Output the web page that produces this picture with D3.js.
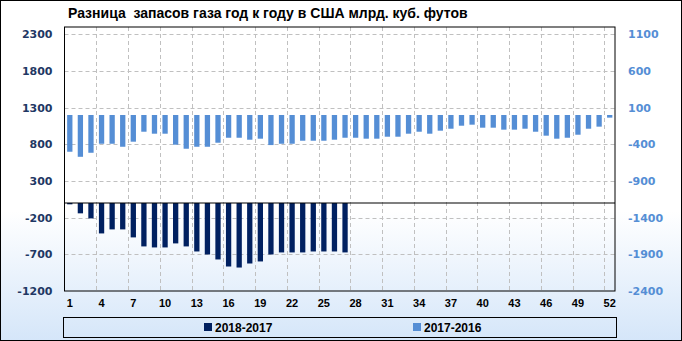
<!DOCTYPE html>
<html>
<head>
<meta charset="utf-8">
<script src="https://cdn.jsdelivr.net/npm/d3@7"></script>
<style>
    html, body { margin: 0; padding: 0; background: #fff; }
    svg { display: block; }
</style>
</head>
<body>
<div id="chart"></div>
<script>
const weeks = d3.range(1, 53);
const tickWeeks = [1, 4, 7, 10, 13, 16, 19, 22, 25, 28, 31, 34, 37, 40, 43, 46, 49, 52];
const leftTicks = [-1200, -700, -200, 300, 800, 1300, 1800, 2300];
const rightTicks = [-2400, -1900, -1400, -900, -400, 100, 600, 1100];

// 2018-2017, left axis (only 27 weeks reported)
const diff2018 = [
    -18, -141, -210, -415, -360, -360, -469, -592, -606, -606,
    -551, -592, -661, -702, -770, -866, -880, -825, -797, -702,
    -674, -674, -674, -661, -661, -661, -674
];

// 2017-2016, right axis
const diff2017 = [
    -501, -570, -515, -392, -392, -433, -364, -228, -255, -255,
    -405, -460, -433, -433, -378, -310, -310, -337, -323, -410,
    -392, -392, -351, -351, -351, -337, -310, -310, -323, -323,
    -296, -296, -255, -228, -255, -214, -187, -146, -132, -173,
    -173, -200, -200, -187, -228, -282, -323, -310, -269, -187,
    -159, -36
];

const width = 682, height = 341;
const plot = { left: 64.5, right: 615, top: 27, bottom: 291 };
const fmt = d => String(d);

const svg = d3.select('#chart').append('svg')
    .attr('width', width)
    .attr('height', height);

const grad = svg.append('defs').append('linearGradient')
    .attr('id', 'bg').attr('x1', 0).attr('y1', 0).attr('x2', 0).attr('y2', 1);
grad.append('stop').attr('offset', '0%').attr('stop-color', '#ffffff');
grad.append('stop').attr('offset', '62%').attr('stop-color', '#ffffff');
grad.append('stop').attr('offset', '100%').attr('stop-color', '#d5e6f9');

svg.append('rect')
    .attr('x', 0.5).attr('y', 0.5)
    .attr('width', width - 1).attr('height', height - 1)
    .attr('fill', 'url(#bg)')
    .attr('stroke', '#000');

const x = d3.scaleBand()
    .domain(weeks)
    .range([plot.left, plot.right]);

const yLeft = d3.scaleLinear().domain([-1200, 2400]).range([plot.bottom, plot.top]);
const yRight = d3.scaleLinear().domain([-2400, 1200]).range([plot.bottom, plot.top]);

// grid
svg.append('g')
    .selectAll('line')
    .data(leftTicks.slice(1))
    .enter()
    .append('line')
    .attr('x1', plot.left).attr('x2', plot.right)
    .attr('y1', d => Math.round(yLeft(d)) + 0.5)
    .attr('y2', d => Math.round(yLeft(d)) + 0.5)
    .attr('stroke', '#c0c0c0')
    .attr('stroke-dasharray', '4,3');

svg.append('g')
    .selectAll('line')
    .data(tickWeeks.slice(1))
    .enter()
    .append('line')
    .attr('x1', d => Math.round(x(d)) + 0.5)
    .attr('x2', d => Math.round(x(d)) + 0.5)
    .attr('y1', plot.top).attr('y2', plot.bottom)
    .attr('stroke', '#c0c0c0')
    .attr('stroke-dasharray', '4,3');

const barW = x.bandwidth() * 0.5;
const barX = d => x(d) + (x.bandwidth() - barW) / 2;

svg.append('g')
    .selectAll('rect')
    .data(diff2017)
    .enter()
    .append('rect')
    .attr('x', (d, i) => barX(weeks[i]))
    .attr('y', yRight(0))
    .attr('width', barW)
    .attr('height', d => yRight(d) - yRight(0))
    .attr('fill', '#558ed5');

svg.append('g')
    .selectAll('rect')
    .data(diff2018)
    .enter()
    .append('rect')
    .attr('x', (d, i) => barX(weeks[i]))
    .attr('y', yLeft(0))
    .attr('width', barW)
    .attr('height', d => yLeft(d) - yLeft(0))
    .attr('fill', '#002060');

// zero line of the left axis
svg.append('line')
    .attr('x1', plot.left).attr('x2', plot.right)
    .attr('y1', yLeft(0)).attr('y2', yLeft(0))
    .attr('stroke', '#000')
    .attr('stroke-width', 1.2);

svg.append('rect')
    .attr('x', plot.left).attr('y', plot.top)
    .attr('width', plot.right - plot.left)
    .attr('height', plot.bottom - plot.top)
    .attr('fill', 'none')
    .attr('stroke', '#000');

// axes
const axisLeft = svg.append('g')
    .attr('transform', `translate(${plot.left},0)`)
    .call(d3.axisLeft(yLeft).tickValues(leftTicks).tickFormat(fmt).tickSize(0).tickPadding(12))
    .call(g => g.select('.domain').remove());
axisLeft.selectAll('text')
    .attr('fill', '#1f3864')
    .style('font', 'bold 11px "DejaVu Sans"');

const axisRight = svg.append('g')
    .attr('transform', `translate(${plot.right},0)`)
    .call(d3.axisRight(yRight).tickValues(rightTicks).tickFormat(fmt).tickSize(0).tickPadding(13))
    .call(g => g.select('.domain').remove());
axisRight.selectAll('text')
    .attr('fill', '#558ed5')
    .style('font', 'bold 11px "DejaVu Sans"');

const axisBottom = svg.append('g')
    .attr('transform', `translate(0,${plot.bottom})`)
    .call(d3.axisBottom(x).tickValues(tickWeeks).tickSize(0).tickPadding(8))
    .call(g => g.select('.domain').remove());
axisBottom.selectAll('text')
    .attr('fill', '#000')
    .style('font', 'bold 11px "Liberation Sans"');

// title
svg.append('text')
    .attr('x', 68).attr('y', 18)
    .attr('fill', '#000')
    .style('font', 'bold 14px "Liberation Sans"')
    .style('white-space', 'pre')
    .text('Разница  запасов газа год к году в США млрд. куб. футов');

// legend
const legend = svg.append('g');
legend.append('rect')
    .attr('x', 63.5).attr('y', 317.5)
    .attr('width', 553).attr('height', 20)
    .attr('fill', 'none')
    .attr('stroke', '#000');

const legendItems = [
    { label: '2018-2017', color: '#002060', x: 204 },
    { label: '2017-2016', color: '#558ed5', x: 413 }
];
const item = legend.selectAll('g.item')
    .data(legendItems)
    .enter()
    .append('g')
    .attr('class', 'item');
item.append('rect')
    .attr('x', d => d.x).attr('y', 323)
    .attr('width', 8).attr('height', 8)
    .attr('fill', d => d.color);
item.append('text')
    .attr('x', d => d.x + 11).attr('y', 331.5)
    .attr('fill', '#000')
    .style('font', 'bold 12px "Liberation Sans"')
    .text(d => d.label);
</script>
</body>
</html>
